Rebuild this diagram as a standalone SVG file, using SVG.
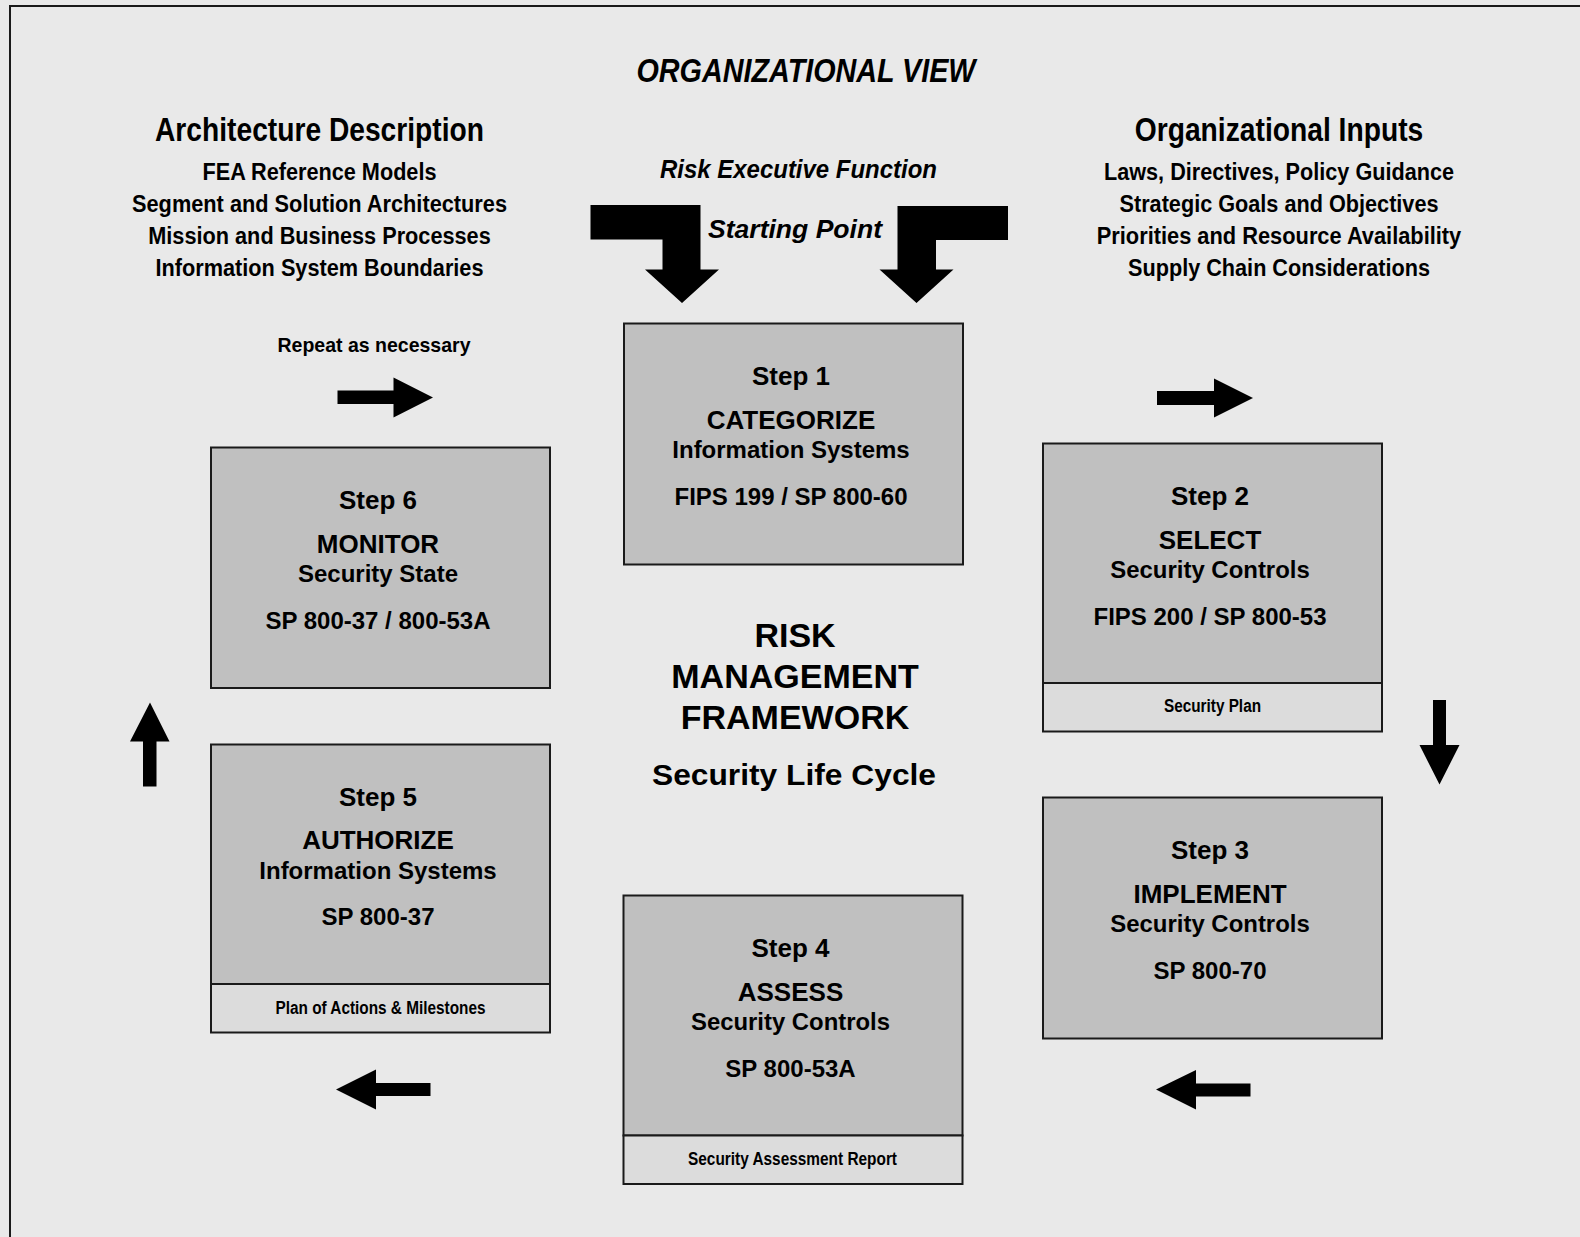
<svg xmlns="http://www.w3.org/2000/svg" width="1580" height="1237" viewBox="0 0 1580 1237">
<style>
text{font-family:"Liberation Sans",Arial,sans-serif;font-weight:bold;fill:#000;text-anchor:middle}
.it{font-style:italic}
.hd{font-size:32.5px}
.ln{font-size:23px}
.st{font-size:26px}
.nm{font-size:26px}
.sb{font-size:24px}
.sp{font-size:24px}
.lb{font-size:17.5px}
.main{fill:#c0c0c0;stroke:#1a1a1a;stroke-width:2}
.sub{fill:#dcdcdc;stroke:#1a1a1a;stroke-width:2}
.arr{fill:#000}
</style>
<rect x="0" y="0" width="1580" height="1237" fill="#e9e9e9"/>
<path d="M10,1237 V6 H1580" fill="none" stroke="#1a1a1a" stroke-width="2"/>

<g id="title">
<text class="it" x="806" y="81.5" font-size="33" textLength="339" lengthAdjust="spacingAndGlyphs">ORGANIZATIONAL VIEW</text>
</g>

<g id="architecture-description">
<text class="hd" x="319.5" y="140.5" textLength="329" lengthAdjust="spacingAndGlyphs">Architecture Description</text>
<text class="ln" x="319.5" y="180" textLength="234" lengthAdjust="spacingAndGlyphs">FEA Reference Models</text>
<text class="ln" x="319.5" y="211.5" textLength="375" lengthAdjust="spacingAndGlyphs">Segment and Solution Architectures</text>
<text class="ln" x="319.5" y="244" textLength="342.5" lengthAdjust="spacingAndGlyphs">Mission and Business Processes</text>
<text class="ln" x="319.5" y="276" textLength="328" lengthAdjust="spacingAndGlyphs">Information System Boundaries</text>
</g>

<g id="organizational-inputs">
<text class="hd" x="1279" y="140.5" textLength="288.5" lengthAdjust="spacingAndGlyphs">Organizational Inputs</text>
<text class="ln" x="1279" y="180" textLength="350" lengthAdjust="spacingAndGlyphs">Laws, Directives, Policy Guidance</text>
<text class="ln" x="1279" y="211.5" textLength="319" lengthAdjust="spacingAndGlyphs">Strategic Goals and Objectives</text>
<text class="ln" x="1279" y="244" textLength="364.5" lengthAdjust="spacingAndGlyphs">Priorities and Resource Availability</text>
<text class="ln" x="1279" y="275.5" textLength="302" lengthAdjust="spacingAndGlyphs">Supply Chain Considerations</text>
</g>

<g id="risk-executive">
<text class="it" x="798.5" y="177.5" font-size="25" textLength="277" lengthAdjust="spacingAndGlyphs">Risk Executive Function</text>
<text class="it" x="795" y="237.5" font-size="25" textLength="174" lengthAdjust="spacingAndGlyphs">Starting Point</text>
</g>

<g id="repeat-label">
<text x="374" y="351.5" font-size="21" textLength="193" lengthAdjust="spacingAndGlyphs">Repeat as necessary</text>
</g>

<g id="center-title">
<text x="795" y="646.5" font-size="34">RISK</text>
<text x="795" y="687.5" font-size="34">MANAGEMENT</text>
<text x="795" y="729" font-size="34">FRAMEWORK</text>
<text x="794" y="785" font-size="29" textLength="284" lengthAdjust="spacingAndGlyphs">Security Life Cycle</text>
</g>

<g id="step1">
<rect class="main" x="624" y="323.5" width="339" height="241"/>
<text class="st" x="791" y="385">Step 1</text>
<text class="nm" x="791" y="429">CATEGORIZE</text>
<text class="sb" x="791" y="458">Information Systems</text>
<text class="sp" x="791" y="504.5">FIPS 199 / SP 800-60</text>
</g>

<g id="step2">
<rect class="main" x="1043" y="443.5" width="339" height="239.5"/>
<rect class="sub" x="1043" y="683" width="339" height="48.5"/>
<text class="st" x="1210" y="505">Step 2</text>
<text class="nm" x="1210" y="549">SELECT</text>
<text class="sb" x="1210" y="578" textLength="199.5" lengthAdjust="spacingAndGlyphs">Security Controls</text>
<text class="sp" x="1210" y="624.5">FIPS 200 / SP 800-53</text>
<text class="lb" x="1212.5" y="712" textLength="97" lengthAdjust="spacingAndGlyphs">Security Plan</text>
</g>

<g id="step3">
<rect class="main" x="1043" y="797.5" width="339" height="241"/>
<text class="st" x="1210" y="859">Step 3</text>
<text class="nm" x="1210" y="903">IMPLEMENT</text>
<text class="sb" x="1210" y="932" textLength="199.5" lengthAdjust="spacingAndGlyphs">Security Controls</text>
<text class="sp" x="1210" y="978.5">SP 800-70</text>
</g>

<g id="step4">
<rect class="main" x="623.5" y="895.5" width="339" height="240"/>
<rect class="sub" x="623.5" y="1135.5" width="339" height="48.5"/>
<text class="st" x="790.5" y="957">Step 4</text>
<text class="nm" x="790.5" y="1000.5">ASSESS</text>
<text class="sb" x="790.5" y="1029.5" textLength="199" lengthAdjust="spacingAndGlyphs">Security Controls</text>
<text class="sp" x="790.5" y="1076.5">SP 800-53A</text>
<text class="lb" x="792.5" y="1165" textLength="209" lengthAdjust="spacingAndGlyphs">Security Assessment Report</text>
</g>

<g id="step5">
<rect class="main" x="211" y="744.5" width="339" height="239.5"/>
<rect class="sub" x="211" y="984" width="339" height="48.5"/>
<text class="st" x="378" y="806">Step 5</text>
<text class="nm" x="378" y="848.5">AUTHORIZE</text>
<text class="sb" x="378" y="878.5">Information Systems</text>
<text class="sp" x="378" y="925">SP 800-37</text>
<text class="lb" x="380.5" y="1013.5" textLength="210" lengthAdjust="spacingAndGlyphs">Plan of Actions &amp; Milestones</text>
</g>

<g id="step6">
<rect class="main" x="211" y="447.5" width="339" height="240.5"/>
<text class="st" x="378" y="509">Step 6</text>
<text class="nm" x="378" y="553">MONITOR</text>
<text class="sb" x="378" y="582">Security State</text>
<text class="sp" x="378" y="628.5">SP 800-37 / 800-53A</text>
</g>

<g id="connectors">
<polygon class="arr" points="590.5,205 700.5,205 700.5,269.5 719,269.5 682,303 645,269.5 662.5,269.5 662.5,239.5 590.5,239.5"/>
<polygon class="arr" points="1008,206 897.5,206 897.5,269.5 879.5,269.5 916.5,303 953.5,269.5 936,269.5 936,240 1008,240"/>
<polygon class="arr" points="337.5,390.5 393.5,390.5 393.5,377.5 433,397.5 393.5,417.5 393.5,404 337.5,404"/>
<polygon class="arr" points="1157,391 1214,391 1214,378.5 1253,398 1214,417.5 1214,405 1157,405"/>
<polygon class="arr" points="1433,700 1446,700 1446,745 1459.5,745 1439.5,784.5 1419.5,745 1433,745"/>
<polygon class="arr" points="1250.5,1083.5 1196,1083.5 1196,1070 1156,1089.5 1196,1109.5 1196,1096.5 1250.5,1096.5"/>
<polygon class="arr" points="430.5,1083 376,1083 376,1069.5 336,1089.5 376,1109.5 376,1096 430.5,1096"/>
<polygon class="arr" points="143,786.5 156.5,786.5 156.5,741.5 169.5,741.5 150,702.5 130,741.5 143,741.5"/>
</g>
</svg>
